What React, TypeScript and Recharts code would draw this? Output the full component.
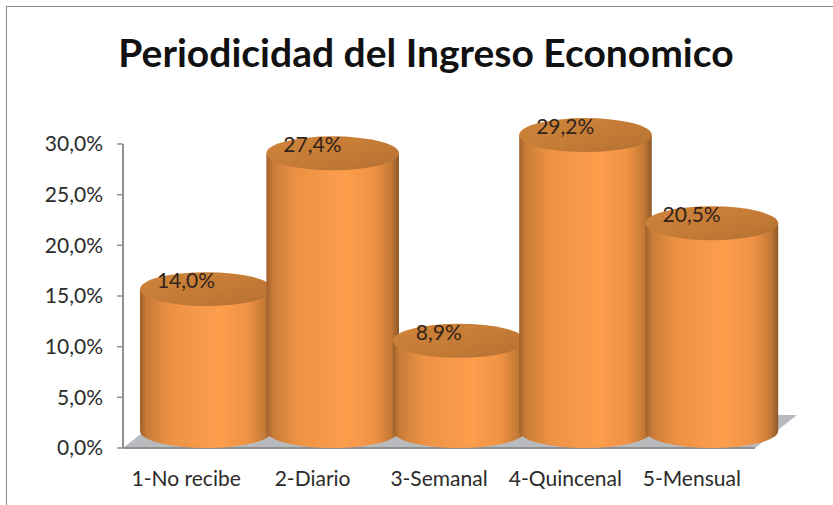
import { BarChart, Bar, XAxis, YAxis, LabelList, usePlotArea } from 'recharts';

const categories = ['1-No recibe', '2-Diario', '3-Semanal', '4-Quincenal', '5-Mensual'];
const values = [14.0, 27.4, 8.9, 29.2, 20.5];
const yTicks = [0, 5, 10, 15, 20, 25, 30];

const chartData = categories.map((name, i) => ({ name, value: values[i] }));

const FONT = 'Lato, sans-serif';
const TEXT = '#2b2b2b';
const AXIS = '#8f8f8f';
// the 3D look: bars sit behind the front edge of the floor and overlap a little
const DEPTH_X = 17;
const OVERLAP = 6.6;
const FLOOR_X = 42;
const FLOOR_Y = 33;
const RY = 17;

const formatPct = (v: number) => `${v.toFixed(1).replace('.', ',')}%`;

function Floor() {
  const plot = usePlotArea();
  if (!plot) return null;
  const left = plot.x;
  const right = plot.x + plot.width;
  const bottom = plot.y + plot.height;
  return (
    <g>
      <polygon
        points={`${left},${bottom} ${right},${bottom} ${right + FLOOR_X},${bottom - FLOOR_Y} ${left + FLOOR_X},${bottom - FLOOR_Y}`}
        fill="#b9babd"
      />
      <line x1={left} y1={bottom} x2={right} y2={bottom} stroke={AXIS} strokeWidth={2} />
    </g>
  );
}

function Cylinder(props: any) {
  const { y, height } = props;
  const x = props.x + DEPTH_X;
  const width = props.width + OVERLAP;
  const rx = width / 2;
  const top = y - RY;
  const bottom = y + height - RY;
  return (
    <g>
      <path
        d={`M${x},${top} L${x},${bottom} A${rx},${RY} 0 0 0 ${x + width},${bottom} L${x + width},${top} Z`}
        fill="url(#cylBody)"
      />
      <ellipse cx={x + rx} cy={top} rx={rx} ry={RY} fill="url(#cylTop)" />
    </g>
  );
}

export default function App() {
  return (
    <div style={{ position: 'absolute', left: 0, top: 0, width: 833, height: 505, background: '#fff' }}>
      <BarChart
        width={833}
        height={505}
        data={chartData}
        barCategoryGap={0}
        margin={{ top: 144, right: 78, bottom: 0, left: 0 }}
      >
        <defs>
          <linearGradient id="cylBody" x1="0" y1="0" x2="1" y2="0">
            <stop offset="0" stopColor="#a0602a" />
            <stop offset="0.05" stopColor="#c87c38" />
            <stop offset="0.22" stopColor="#ec9143" />
            <stop offset="0.6" stopColor="#fd9e4d" />
            <stop offset="0.82" stopColor="#ee9244" />
            <stop offset="0.94" stopColor="#c47935" />
            <stop offset="1" stopColor="#8c5a2c" />
          </linearGradient>
          <linearGradient id="cylTop" x1="0" y1="0" x2="1" y2="1">
            <stop offset="0" stopColor="#cf8439" />
            <stop offset="0.55" stopColor="#c47b36" />
            <stop offset="1" stopColor="#b46f31" />
          </linearGradient>
        </defs>
        <text
          x={426}
          y={67}
          textAnchor="middle"
          fontFamily={FONT}
          fontWeight={700}
          fontSize={39}
          fill="#111"
        >
          Periodicidad del Ingreso Economico
        </text>
        <XAxis
          dataKey="name"
          height={57}
          axisLine={false}
          tickLine={false}
          tickMargin={17}
          interval={0}
          tick={{ fontSize: 21, fontFamily: FONT, fill: TEXT }}
        />
        <YAxis
          width={123}
          domain={[0, 30]}
          ticks={yTicks}
          tickFormatter={formatPct}
          axisLine={{ stroke: AXIS, strokeWidth: 2 }}
          tickLine={{ stroke: AXIS, strokeWidth: 1.5 }}
          tickSize={6}
          tickMargin={14}
          tick={{ fontSize: 21, fontFamily: FONT, fill: TEXT }}
        />
        <Floor />
        <Bar dataKey="value" shape={Cylinder} isAnimationActive={false}>
          <LabelList
            dataKey="value"
            position="top"
            offset={18}
            formatter={formatPct}
            style={{ fontSize: 21, fontFamily: FONT, fill: '#33231a' }}
          />
        </Bar>
      </BarChart>
      {/* frame of the pasted picture: only top and left show */}
      <div style={{ position: 'absolute', left: 6, top: 6, right: 0, height: 1, background: '#8a8a8a' }} />
      <div style={{ position: 'absolute', left: 6, top: 6, bottom: 0, width: 1, background: '#8a8a8a' }} />
    </div>
  );
}
